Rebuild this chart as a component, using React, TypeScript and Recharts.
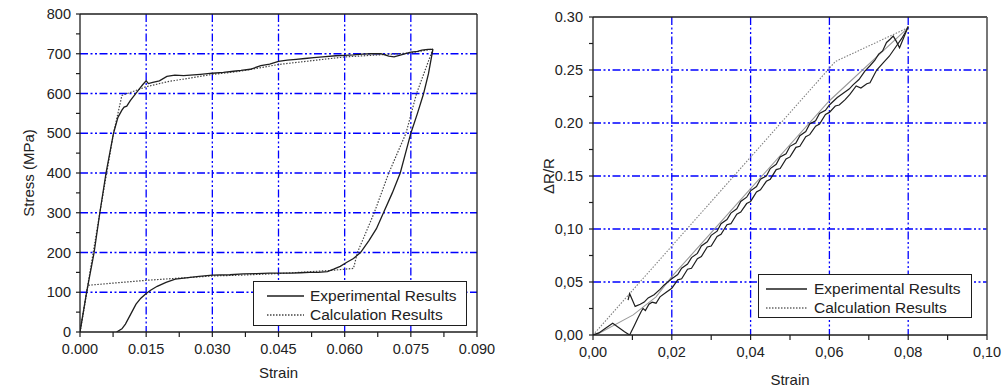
import { LineChart, Line, XAxis, YAxis, CartesianGrid, Legend, Label, ReferenceLine } from "recharts";

// ---- left panel: stress vs strain ----
const expLoadingLeft: [number, number][] = [
  [0, 0], [0.0015, 100], [0.0032, 200], [0.0045, 300], [0.0059, 400], [0.0076, 500],
  [0.0086, 540], [0.0095, 558], [0.01, 566], [0.0106, 568], [0.0114, 582], [0.0121, 592],
  [0.0132, 608], [0.0142, 622], [0.015, 632], [0.0155, 625], [0.0165, 628], [0.018, 632],
  [0.0197, 643], [0.0215, 646], [0.0235, 645], [0.025, 646], [0.0273, 648], [0.03, 651],
  [0.0325, 653], [0.0348, 656], [0.0365, 658], [0.0386, 661], [0.041, 670], [0.043, 674],
  [0.045, 681], [0.047, 684], [0.049, 686], [0.051, 688], [0.053, 690], [0.055, 692],
  [0.058, 695], [0.06, 696], [0.062, 697], [0.064, 699], [0.066, 700], [0.0682, 700],
  [0.07, 694], [0.0712, 692], [0.073, 698], [0.075, 704], [0.0765, 706], [0.0775, 709],
  [0.0789, 711], [0.08, 711],
];
const expUnloadingLeft: [number, number][] = [
  [0.08, 711], [0.079, 650], [0.0779, 600], [0.0765, 550], [0.075, 500], [0.0738, 450],
  [0.0726, 400], [0.0708, 350], [0.0688, 300], [0.0672, 260], [0.0655, 230], [0.0636, 200],
  [0.062, 185], [0.0604, 175], [0.059, 165], [0.0575, 158], [0.0561, 152], [0.054, 150],
  [0.052, 150], [0.05, 149], [0.048, 148], [0.0455, 148], [0.043, 148], [0.04, 147],
  [0.037, 146], [0.034, 144], [0.03, 143], [0.027, 140], [0.0245, 137], [0.0216, 133],
  [0.0195, 125], [0.0175, 115], [0.016, 105], [0.015, 97], [0.0138, 85], [0.0127, 70],
  [0.0115, 45], [0.0103, 20], [0.0095, 8], [0.0083, 0],
];
const calcLoadingLeft: [number, number][] = [
  [0, 0], [0.0045, 300], [0.0076, 500], [0.0095, 595], [0.015, 617], [0.02, 630],
  [0.03, 648], [0.0364, 656], [0.045, 673], [0.06, 692], [0.075, 702], [0.08, 712],
];
const calcUnloadingLeft: [number, number][] = [
  [0.08, 712], [0.0763, 600], [0.0739, 500], [0.07, 400], [0.0667, 300], [0.0629, 200],
  [0.062, 160], [0.057, 155], [0.045, 147], [0.0364, 143], [0.03, 141], [0.015, 130],
  [0.0023, 118], [0.0018, 117], [0, 0],
];

const strainTicksLeft = [0, 0.0075, 0.015, 0.0225, 0.03, 0.0375, 0.045, 0.0525, 0.06, 0.0675, 0.075, 0.0825, 0.09];
const strainLabelsLeft = ["0.000", "", "0.015", "", "0.030", "", "0.045", "", "0.060", "", "0.075", "", "0.090"];
const strainGridLeft = [0.015, 0.03, 0.045, 0.06, 0.075];
const stressTicks = [0, 50, 100, 150, 200, 250, 300, 350, 400, 450, 500, 550, 600, 650, 700, 750, 800];
const stressLabels = ["0", "", "100", "", "200", "", "300", "", "400", "", "500", "", "600", "", "700", "", "800"];
const stressGrid = [100, 200, 300, 400, 500, 600, 700];

// ---- right panel: dR/R vs strain ----
const expLoadingRight: [number, number][] = [
  [0, 0], [0.0015, 0.002], [0.003, 0.006], [0.005, 0.011], [0.0065, 0.007], [0.008, 0.003],
  [0.0093, 0], [0.0105, 0.009], [0.0114, 0.016], [0.0122, 0.022], [0.0127, 0.025], [0.0133, 0.023],
  [0.0142, 0.029], [0.015, 0.031], [0.016, 0.03], [0.017, 0.036], [0.0185, 0.04], [0.02, 0.044],
  [0.0215, 0.052], [0.0225, 0.053], [0.024, 0.062], [0.025, 0.063], [0.0265, 0.072], [0.0275, 0.074],
  [0.029, 0.083], [0.03, 0.084], [0.0315, 0.093], [0.0325, 0.095], [0.034, 0.104], [0.035, 0.105],
  [0.0365, 0.114], [0.0375, 0.116], [0.039, 0.124], [0.04, 0.126], [0.0415, 0.135], [0.0425, 0.137],
  [0.044, 0.145], [0.045, 0.147], [0.0465, 0.156], [0.0475, 0.157], [0.049, 0.166], [0.05, 0.168],
  [0.0515, 0.177], [0.0525, 0.178], [0.054, 0.187], [0.055, 0.189], [0.0565, 0.197], [0.0575, 0.199],
  [0.059, 0.208], [0.06, 0.21], [0.0615, 0.216], [0.0625, 0.217], [0.064, 0.222], [0.0652, 0.227],
  [0.0668, 0.235], [0.068, 0.233], [0.0695, 0.237], [0.0703, 0.238], [0.072, 0.25], [0.0737, 0.257],
  [0.0752, 0.263], [0.0767, 0.271], [0.0784, 0.28], [0.0795, 0.287], [0.08, 0.291],
];
const expUnloadingRight: [number, number][] = [
  [0.08, 0.291], [0.0788, 0.28], [0.0778, 0.271], [0.077, 0.277], [0.0762, 0.282], [0.0754, 0.279],
  [0.0745, 0.276], [0.0735, 0.268], [0.0725, 0.265], [0.0715, 0.259], [0.0703, 0.254], [0.069, 0.249],
  [0.0675, 0.241], [0.066, 0.236], [0.065, 0.232], [0.0635, 0.228], [0.062, 0.224], [0.06, 0.217],
  [0.059, 0.212], [0.0575, 0.209], [0.0565, 0.202], [0.055, 0.199], [0.054, 0.192], [0.0525, 0.188],
  [0.0515, 0.181], [0.05, 0.178], [0.049, 0.171], [0.0475, 0.168], [0.0465, 0.161], [0.045, 0.157],
  [0.044, 0.15], [0.0425, 0.147], [0.0415, 0.14], [0.04, 0.136], [0.039, 0.13], [0.0375, 0.126],
  [0.0365, 0.119], [0.035, 0.115], [0.034, 0.109], [0.0325, 0.105], [0.0315, 0.098], [0.03, 0.094],
  [0.029, 0.088], [0.0275, 0.084], [0.0265, 0.077], [0.025, 0.073], [0.024, 0.067], [0.0225, 0.063],
  [0.0215, 0.057], [0.02, 0.053], [0.018, 0.047], [0.017, 0.043], [0.0155, 0.038], [0.014, 0.035],
  [0.013, 0.031], [0.012, 0.029], [0.0107, 0.027], [0.0093, 0.039], [0.0089, 0.033],
];
const calcLoadingRight: [number, number][] = [[0, 0], [0.0615, 0.258], [0.08, 0.29]];
const calcUnloadingRight: [number, number][] = [
  [0.08, 0.29], [0.06, 0.221], [0.04, 0.138], [0.02, 0.055], [0.016, 0.036], [0.0102, 0.019],
  [0.0017, 0.002], [0, 0],
];

const strainTicksRight = [0, 0.01, 0.02, 0.03, 0.04, 0.05, 0.06, 0.07, 0.08, 0.09, 0.1];
const strainLabelsRight = ["0,00", "", "0,02", "", "0,04", "", "0,06", "", "0,08", "", "0,10"];
const strainGridRight = [0.02, 0.04, 0.06, 0.08];
const drTicks = [0, 0.025, 0.05, 0.075, 0.1, 0.125, 0.15, 0.175, 0.2, 0.225, 0.25, 0.275, 0.3];
const drLabels = ["0,00", "", "0,05", "", "0,10", "", "0.15", "", "0.20", "", "0.25", "", "0.30"];
const drGrid = [0.05, 0.1, 0.15, 0.2, 0.25];

const legendNames = ["Experimental Results", "Calculation Results"];

const toPts = (arr: [number, number][]) => arr.map(([x, y]) => ({ x, y }));

const INK = "#1e1e1e";
const GRID = "#0000ff";
const gridDash = "8 2.5 2 2.5 2 2.5";
const axisLine = { stroke: INK, strokeWidth: 1.3 };
const tickLine = { stroke: INK, strokeWidth: 1.2 };
const tickStyle = { fill: "#222", fontSize: 14.5 };

function makeLegend(sampleLeft: number, sampleWidth: number, textLeft: number, rows: number[], calcColor: string) {
  return () => (
    <div
      style={{
        position: "relative",
        width: "100%",
        height: "100%",
        boxSizing: "border-box",
        border: `1.3px solid ${INK}`,
        background: "#fff",
        fontSize: 15.5,
        color: "#222",
      }}
    >
      {legendNames.map((name, i) => (
        <div key={name} style={{ position: "absolute", left: 0, top: rows[i] - 10, height: 20, width: "100%" }}>
          <svg width={sampleWidth} height={20} style={{ position: "absolute", left: sampleLeft, top: 0 }}>
            <line
              x1={0}
              y1={10}
              x2={sampleWidth}
              y2={10}
              stroke={i === 0 ? INK : calcColor}
              strokeWidth={1.3}
              strokeDasharray={i === 0 ? undefined : "1.5 1.5"}
            />
          </svg>
          <span style={{ position: "absolute", left: textLeft, top: 0, lineHeight: "20px", whiteSpace: "nowrap" }}>
            {name}
          </span>
        </div>
      ))}
    </div>
  );
}

function LeftChart() {
  return (
    <LineChart width={500} height={389} margin={{ top: 14, right: 23, bottom: 17, left: 0 }}>
      <CartesianGrid
        horizontalValues={stressGrid}
        verticalValues={strainGridLeft}
        stroke={GRID}
        strokeWidth={1.3}
        strokeDasharray={gridDash}
      />
      <XAxis
        type="number"
        dataKey="x"
        domain={[0, 0.09]}
        ticks={strainTicksLeft}
        interval={0}
        tickFormatter={(_v: number, i: number) => strainLabelsLeft[i]}
        height={40}
        tickSize={5}
        tickMargin={7}
        axisLine={axisLine}
        tickLine={tickLine}
        tick={tickStyle}
        allowDataOverflow
      >
        <Label
          content={(p: any) => (
            <text x={p.viewBox.x + p.viewBox.width / 2} y={p.viewBox.y + 46} textAnchor="middle" fill="#222" fontSize={15}>
              Strain
            </text>
          )}
        />
      </XAxis>
      <YAxis
        type="number"
        domain={[0, 800]}
        ticks={stressTicks}
        interval={0}
        tickFormatter={(_v: number, i: number) => stressLabels[i]}
        width={80}
        tickSize={4}
        tickMargin={5}
        axisLine={axisLine}
        tickLine={tickLine}
        tick={tickStyle}
        allowDataOverflow
      >
        <Label
          content={(p: any) => {
            const cx = 28;
            const cy = p.viewBox.y + p.viewBox.height / 2;
            return (
              <text x={cx} y={cy} transform={`rotate(-90, ${cx}, ${cy})`} textAnchor="middle" dominantBaseline="central" fill="#222" fontSize={15}>
                Stress (MPa)
              </text>
            );
          }}
        />
      </YAxis>
      <ReferenceLine y={800} stroke={INK} strokeWidth={1.3} />
      <ReferenceLine x={0.09} stroke={INK} strokeWidth={1.3} />
      <Line data={toPts(calcLoadingLeft)} dataKey="y" name="Calculation Results" stroke="#444" strokeWidth={1.2} strokeDasharray="1.5 1.5" dot={false} isAnimationActive={false} />
      <Line data={toPts(calcUnloadingLeft)} dataKey="y" name="Calculation Results (unloading)" stroke="#444" strokeWidth={1.2} strokeDasharray="1.5 1.5" dot={false} isAnimationActive={false} />
      <Line data={toPts(expLoadingLeft)} dataKey="y" name="Experimental Results" stroke={INK} strokeWidth={1.3} dot={false} isAnimationActive={false} />
      <Line data={toPts(expUnloadingLeft)} dataKey="y" name="Experimental Results (unloading)" stroke={INK} strokeWidth={1.3} dot={false} isAnimationActive={false} />
      <Legend
        layout="horizontal"
        verticalAlign="middle"
        align="center"
        content={makeLegend(13, 37, 56, [14, 33], "#444")}
        wrapperStyle={{ position: "absolute", left: 253, top: 281, width: 214, height: 45 }}
      />
    </LineChart>
  );
}

function RightChart() {
  return (
    <LineChart width={503} height={389} margin={{ top: 17, right: 16, bottom: 14, left: 0 }}>
      <CartesianGrid
        horizontalValues={drGrid}
        verticalValues={strainGridRight}
        stroke={GRID}
        strokeWidth={1.3}
        strokeDasharray={gridDash}
      />
      <XAxis
        type="number"
        dataKey="x"
        domain={[0, 0.1]}
        ticks={strainTicksRight}
        interval={0}
        tickFormatter={(_v: number, i: number) => strainLabelsRight[i]}
        height={40}
        tickSize={5}
        tickMargin={7}
        axisLine={axisLine}
        tickLine={tickLine}
        tick={tickStyle}
        allowDataOverflow
      >
        <Label
          content={(p: any) => (
            <text x={p.viewBox.x + p.viewBox.width / 2} y={p.viewBox.y + 50} textAnchor="middle" fill="#222" fontSize={15}>
              Strain
            </text>
          )}
        />
      </XAxis>
      <YAxis
        type="number"
        domain={[0, 0.3]}
        ticks={drTicks}
        interval={0}
        tickFormatter={(_v: number, i: number) => drLabels[i]}
        width={93}
        tickSize={4}
        tickMargin={6}
        axisLine={axisLine}
        tickLine={tickLine}
        tick={tickStyle}
        allowDataOverflow
      >
        <Label
          content={(p: any) => {
            const cx = 48;
            const cy = p.viewBox.y + p.viewBox.height / 2;
            return (
              <text x={cx} y={cy} transform={`rotate(-90, ${cx}, ${cy})`} textAnchor="middle" dominantBaseline="central" fill="#222" fontSize={15}>
                ΔR/R
              </text>
            );
          }}
        />
      </YAxis>
      <ReferenceLine y={0.3} stroke={INK} strokeWidth={1.3} />
      <ReferenceLine x={0.1} stroke="#555" strokeWidth={1.6} />
      <Line data={toPts(calcLoadingRight)} dataKey="y" name="Calculation Results" stroke="#808080" strokeWidth={1.1} strokeDasharray="1.5 1.5" dot={false} isAnimationActive={false} />
      <Line data={toPts(calcUnloadingRight)} dataKey="y" name="Calculation Results (unloading)" stroke="#9a9a9a" strokeWidth={1.1} dot={false} isAnimationActive={false} />
      <Line data={toPts(expLoadingRight)} dataKey="y" name="Experimental Results" stroke={INK} strokeWidth={1.2} dot={false} isAnimationActive={false} />
      <Line data={toPts(expUnloadingRight)} dataKey="y" name="Experimental Results (unloading)" stroke={INK} strokeWidth={1.2} dot={false} isAnimationActive={false} />
      <Legend
        layout="horizontal"
        verticalAlign="middle"
        align="center"
        content={makeLegend(7, 41, 55, [13.7, 33.3], "#666")}
        wrapperStyle={{ position: "absolute", left: 258, top: 274, width: 214, height: 44 }}
      />
    </LineChart>
  );
}

export default function App() {
  return (
    <div
      style={{
        position: "fixed",
        left: 0,
        top: 0,
        width: 1003,
        height: 389,
        background: "#fff",
        fontFamily: '"Liberation Sans", Arial, sans-serif',
      }}
    >
      <div style={{ position: "absolute", left: 0, top: 0 }}>
        <LeftChart />
      </div>
      <div style={{ position: "absolute", left: 500, top: 0 }}>
        <RightChart />
      </div>
    </div>
  );
}
